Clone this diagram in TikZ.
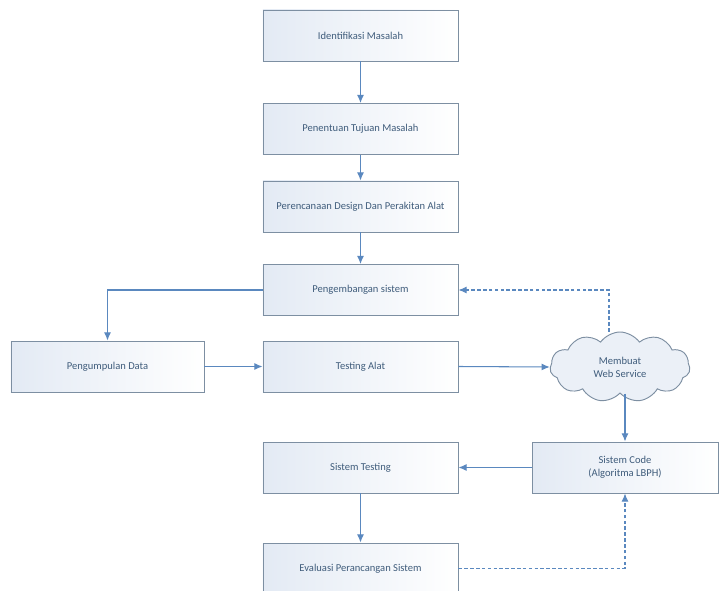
\documentclass[tikz,border=0pt]{standalone}
\usepackage{fontspec}
\setmainfont{Carlito}
\usetikzlibrary{shapes.symbols,arrows.meta}
\definecolor{boxline}{HTML}{7D8FA2}
\definecolor{boxfill}{HTML}{E3EAF4}
\definecolor{arrowblue}{HTML}{5A88BF}
\definecolor{textblue}{HTML}{3F5C7B}
\tikzset{
  stepbox/.style={draw=boxline,line width=0.8pt,left color=boxfill,right color=white,
    minimum width=5.85cm,minimum height=1.53cm,text=textblue,font=\fontsize{9}{11}\selectfont,align=center},
  flow/.style={draw=arrowblue,line width=0.9pt,-{Latex[length=7pt,width=6pt]}},
  dashflow/.style={flow,dash pattern=on 3pt off 2pt}
}
\begin{document}
\begin{tikzpicture}[x=0.03cm,y=-0.03cm]
\useasboundingbox (0,0) rectangle (720,591);
\node[stepbox] (identifikasi) at (360.5,35.5) {Identifikasi Masalah};
\node[stepbox] (tujuan) at (360.5,129) {Penentuan Tujuan Masalah};
\node[stepbox] (perencanaan) at (360.5,206.5) {Perencanaan Design Dan Perakitan Alat};
\node[stepbox] (pengembangan) at (360.5,290) {Pengembangan sistem};
\node[stepbox,minimum width=5.79cm] (pengumpulan) at (107.5,366.5) {Pengumpulan Data};
\node[stepbox] (testingalat) at (360.5,366.5) {Testing Alat};
\node[cloud,cloud puffs=11,cloud puff arc=110,aspect=2.1,draw=boxline,line width=0.8pt,fill=boxfill!70,
  minimum width=4.2cm,minimum height=2.1cm,inner sep=0pt,text=textblue,font=\fontsize{9}{11}\selectfont,align=center]
  (webservice) at (620,367) {Membuat\\Web Service};
\node[stepbox,minimum width=5.58cm] (kode) at (625,467.5) {Sistem Code\\(Algoritma LBPH)};
\node[stepbox] (sistemtesting) at (360.5,467.5) {Sistem Testing};
\node[stepbox] (evaluasi) at (360.5,568.5) {Evaluasi Perancangan Sistem};
\draw[flow] (identifikasi) -- (tujuan);
\draw[flow] (tujuan) -- (perencanaan);
\draw[flow] (perencanaan) -- (pengembangan);
\draw[flow] (pengembangan.west) -| (pengumpulan.north);
\draw[flow] (pengumpulan) -- (testingalat);
\draw[flow] (testingalat.east) -- (webservice.west);
\draw[dashflow] ([xshift=-0.33cm]webservice.north) |- (pengembangan.east);
\draw[flow] (webservice.south -| kode.north) -- (kode.north);
\draw[flow] (kode.west) -- (sistemtesting.east);
\draw[flow] (sistemtesting) -- (evaluasi);
\draw[dashflow] (evaluasi.east) -| (kode.south);
\end{tikzpicture}
\end{document}
